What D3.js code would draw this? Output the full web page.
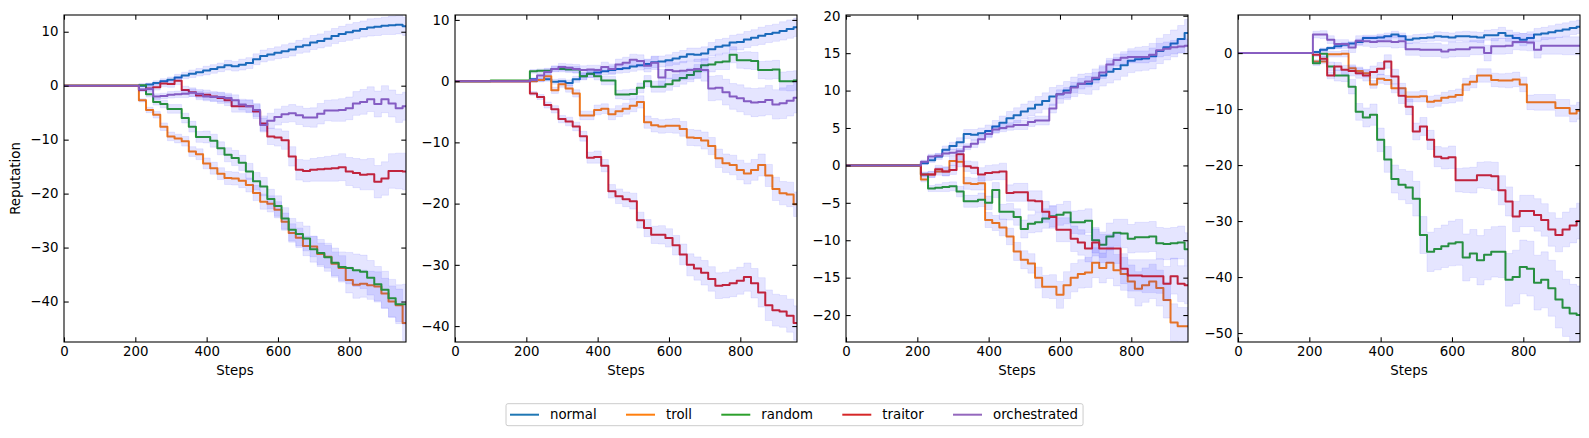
<!DOCTYPE html>
<html>
<head>
<meta charset="utf-8">
<script src="https://cdn.jsdelivr.net/npm/d3@7"></script>
<style>
  body { margin: 0; background: #fff; }
  text { font-family: "DejaVu Sans", sans-serif; }
</style>
</head>
<body>
<script>
const steps = [0,200,220,240,260,280,300,320,340,360,
  380,400,420,440,460,480,500,520,540,560,
  580,600,620,640,660,680,700,720,740,760,
  780,800,820,840,860,880,900,920,940,959];

const seriesNames = ["normal", "troll", "random", "traitor", "orchestrated"];
const xTicks = [0, 200, 400, 600, 800];

/* panel 1 */
const p1Normal = [0,0,0,0.2,0.5,0.8,1.1,1.5,1.9,2.2, 2.5,2.8,3.1,3.4,3.8,3.6,3.9,4.2,4.9,5.5,
  5.8,6.1,6.4,6.7,7.2,7.5,8.0,8.3,8.7,9.2, 9.6,9.9,10.2,10.5,10.8,10.9,11.1,11.2,11.3,11.0];
const p1Troll = [0,0,-2.7,-4.5,-5.4,-7.6,-9.4,-9.8,-10.3,-12.2, -12.7,-14.4,-15.3,-16.3,-17.1,-17.2,-17.6,-18.4,-19.9,-21.5,
  -21.9,-23.0,-25.2,-27.3,-28.2,-29.7,-29.8,-31.2,-31.7,-33.0, -33.8,-36.0,-36.9,-36.7,-37.0,-37.2,-38.5,-40.0,-40.7,-44.0];
const p1Random = [0,0,0.1,-1.6,-3.0,-3.4,-4.3,-4.3,-6.0,-7.6, -9.5,-9.5,-10.2,-11.6,-12.8,-13.4,-14.3,-15.9,-17.7,-18.7,
  -21.0,-22.3,-24.6,-26.7,-27.5,-28.3,-30.3,-31.0,-31.8,-32.8, -33.6,-33.8,-34.2,-34.5,-35.6,-36.8,-37.8,-39.4,-40.5,-40.5];
const p1Traitor = [0,0,-0.8,-0.5,-0.3,0.4,0.3,0.9,-0.8,-1.2, -1.8,-1.7,-2.0,-2.3,-2.7,-3.8,-3.8,-3.8,-4.8,-7.0,
  -9.4,-9.6,-10.1,-13.1,-15.6,-15.8,-15.6,-15.5,-15.4,-15.3, -15.1,-15.9,-16.2,-16.5,-16.4,-17.8,-17.2,-15.8,-15.8,-15.9];
const p1Orch = [0,0,-0.7,-0.6,-2.0,-1.9,-1.7,-1.6,-1.5,-1.3, -1.5,-2.0,-2.1,-2.1,-2.3,-2.7,-3.5,-3.8,-4.5,-7.3,
  -6.5,-5.8,-5.3,-5.1,-5.5,-5.9,-5.9,-5.2,-4.6,-4.6, -4.5,-4.2,-3.3,-3.0,-2.5,-3.4,-2.5,-3.3,-4.2,-3.8];
const p1NormalSd = [0,0,0.2,0.3,0.4,0.5,0.5,0.6,0.6,0.7, 0.7,0.8,0.8,0.8,0.9,0.9,1.0,1.0,1.0,1.1,
  1.1,1.1,1.2,1.2,1.2,1.3,1.3,1.3,1.4,1.4, 1.4,1.5,1.5,1.5,1.6,1.6,1.6,1.7,1.7,1.7];
const p1TrollSd = [0,0,0.3,0.5,0.6,0.7,0.8,0.8,0.9,0.9, 1.0,1.0,1.1,1.1,1.2,1.2,1.3,1.3,1.4,1.4,
  1.5,1.5,1.6,1.7,1.8,1.8,1.9,2.0,2.1,2.2, 2.3,2.4,2.5,2.5,2.6,2.7,2.8,2.9,3.0,3.2];
const p1RandomSd = [0,0,0.3,0.5,0.6,0.7,0.8,0.8,0.9,1.0, 1.0,1.1,1.2,1.2,1.3,1.4,1.4,1.5,1.6,1.7,
  1.8,1.9,2.0,2.1,2.2,2.3,2.4,2.5,2.6,2.7, 2.8,2.9,3.0,3.1,3.2,3.3,3.4,3.5,3.6,3.7];
const p1TraitorSd = [0,0,0.3,0.4,0.5,0.6,0.6,0.7,0.7,0.8, 0.8,0.9,0.9,1.0,1.0,1.1,1.1,1.2,1.3,1.4,
  1.5,1.6,1.7,1.8,1.9,2.0,2.1,2.2,2.3,2.4, 2.5,2.6,2.7,2.8,2.9,3.0,3.1,3.2,3.3,3.4];
const p1OrchSd = [0,0,0.3,0.4,0.5,0.5,0.6,0.6,0.7,0.7, 0.8,0.8,0.8,0.9,0.9,1.0,1.0,1.1,1.2,1.3,
  1.4,1.5,1.5,1.6,1.7,1.7,1.8,1.9,1.9,2.0, 2.1,2.1,2.2,2.3,2.3,2.4,2.5,2.5,2.6,2.6];

/* panel 2 */
const p2Normal = [0,0,0.3,0.2,0.3,-0.1,0,-0.3,0.3,0.8, 1.2,1.4,1.6,1.8,2.0,2.1,2.4,2.6,2.8,3.1,
  3.2,3.4,3.7,4.0,4.4,4.3,4.5,5.2,5.6,5.8, 6.3,6.4,6.8,7.1,7.4,7.7,7.9,8.2,8.5,8.8];
const p2Troll = [0,0,0,0.2,0.8,-1.5,-0.5,-1.2,-2.0,-5.6, -5.6,-4.7,-4.5,-5.4,-4.9,-4.5,-4.0,-3.4,-6.7,-7.2,
  -7.4,-7.3,-7.3,-7.8,-9.2,-9.3,-9.7,-10.6,-12.6,-13.4, -13.7,-14.5,-15.1,-14.5,-13.7,-15.4,-17.6,-18.3,-18.5,-20.1];
const p2Random = [0,0.1,1.6,1.7,1.7,2.0,2.0,1.9,1.9,0.8, 1.2,0.8,0.1,0.1,-2.2,-2.2,-2.1,-1.1,0.0,-0.9,
  -0.9,-0.5,0.1,0.5,1.0,1.6,2.6,2.7,3.1,3.2, 4.3,3.4,3.4,3.3,1.8,1.8,1.9,0.0,0.0,0.1];
const p2Traitor = [0,0,-2.0,-2.6,-3.9,-4.6,-6.2,-6.6,-7.4,-9.0, -12.5,-12.4,-13.8,-18.0,-18.8,-19.3,-19.6,-22.7,-24.0,-25.1,
  -25.1,-25.6,-26.8,-28.3,-30.0,-30.6,-31.3,-32.3,-33.4,-33.3, -33.0,-32.6,-32.0,-33.0,-34.5,-36.6,-37.4,-37.6,-38.3,-39.5];
const p2Orch = [0,0,0.2,0.9,1.5,2.0,2.3,2.2,2.0,1.8, 1.9,1.8,2.3,2.0,2.7,3.0,3.5,3.3,2.5,3.0,
  0.6,1.8,1.6,1.7,1.8,2.0,1.8,-1.2,-1.1,-1.8, -2.5,-2.8,-3.3,-3.5,-3.4,-3.1,-3.8,-3.6,-3.2,-2.7];
const p2NormalSd = [0,0,0.2,0.3,0.3,0.4,0.4,0.5,0.5,0.5, 0.6,0.6,0.6,0.7,0.7,0.7,0.8,0.8,0.8,0.9,
  0.9,0.9,1.0,1.0,1.0,1.1,1.1,1.1,1.2,1.2, 1.2,1.3,1.3,1.3,1.4,1.4,1.4,1.5,1.5,1.5];
const p2TrollSd = [0,0,0.2,0.3,0.4,0.5,0.5,0.6,0.6,0.7, 0.7,0.8,0.8,0.9,0.9,0.9,1.0,1.0,1.0,1.1,
  1.1,1.1,1.2,1.2,1.3,1.3,1.4,1.4,1.5,1.5, 1.6,1.6,1.7,1.7,1.8,1.8,1.9,1.9,2.0,2.0];
const p2RandomSd = [0,0,0.3,0.3,0.4,0.4,0.5,0.5,0.5,0.6, 0.6,0.6,0.7,0.7,0.7,0.8,0.8,0.8,0.9,0.9,
  0.9,1.0,1.0,1.0,1.1,1.1,1.1,1.2,1.2,1.3, 1.3,1.3,1.4,1.4,1.4,1.5,1.5,1.5,1.6,1.6];
const p2TraitorSd = [0,0,0.3,0.4,0.5,0.6,0.6,0.7,0.7,0.8, 0.9,1.0,1.0,1.1,1.2,1.2,1.3,1.3,1.4,1.4,
  1.5,1.5,1.6,1.7,1.8,1.9,2.0,2.0,2.1,2.1, 2.2,2.2,2.3,2.4,2.4,2.5,2.6,2.6,2.7,2.8];
const p2OrchSd = [0,0,0.3,0.4,0.5,0.5,0.6,0.6,0.7,0.7, 0.7,0.8,0.8,0.8,0.9,0.9,0.9,1.0,1.0,1.1,
  1.3,1.4,1.4,1.5,1.5,1.6,1.8,2.0,2.0,2.1, 2.1,2.2,2.2,2.3,2.3,2.4,2.4,2.5,2.5,2.5];

/* panel 3 */
const p3Normal = [0,0,0.3,0.7,1.2,2.1,2.6,3.1,4.2,4.1, 4.3,4.6,5.2,5.7,6.3,6.7,7.2,7.6,8.1,8.6,
  9.2,9.5,10.0,10.5,10.9,10.9,11.5,12.0,12.5,12.9, 13.4,14.0,14.2,14.3,14.6,15.3,15.8,16.3,16.9,17.7];
const p3Troll = [0,0,-1.9,-1.2,-0.8,-0.8,0.6,0.5,-2.4,-2.5, -2.4,-7.3,-7.7,-8.3,-9.5,-11.5,-12.6,-13.1,-15.0,-16.2,
  -16.2,-17.3,-16.0,-15.0,-14.5,-14.3,-13.0,-13.7,-13.0,-14.0, -14.5,-15.5,-16.5,-16.0,-15.5,-16.4,-18.0,-21.0,-21.5,-21.5];
const p3Random = [0,0,-1.2,-3.1,-3.0,-2.9,-2.8,-3.5,-4.8,-4.8, -4.6,-5.0,-3.3,-6.2,-6.2,-6.9,-8.5,-7.8,-7.6,-7.1,
  -6.8,-6.6,-6.3,-7.6,-7.6,-7.4,-10.0,-10.6,-9.5,-9.0, -9.1,-9.8,-9.6,-9.6,-9.5,-10.4,-10.5,-10.4,-10.3,-11.2];
const p3Traitor = [0,0,-1.2,-1.2,-0.5,-0.8,-0.6,1.5,-0.1,-0.3, -1.2,-1.0,-0.9,-0.8,-3.7,-3.6,-3.6,-4.7,-4.8,-6.2,
  -6.9,-8.6,-8.6,-9.8,-10.3,-11.1,-10.3,-11.1,-11.1,-11.1, -13.8,-14.7,-14.7,-14.8,-14.8,-14.8,-15.8,-14.8,-15.8,-16.0];
const p3Orch = [0,0,0.5,1.2,1.3,1.6,1.7,1.9,2.5,2.9, 3.5,4.2,4.8,5.0,5.2,5.4,5.4,5.8,6.0,6.0,
  7.6,9.5,9.7,10.4,10.9,11.2,11.7,12.4,13.5,14.1, 14.4,14.5,14.5,14.5,14.8,15.4,15.6,15.8,15.9,16.0];
const p3NormalSd = [0,0,0.2,0.3,0.4,0.5,0.5,0.6,0.6,0.7, 0.7,0.8,0.8,0.9,0.9,1.0,1.0,1.0,1.1,1.1,
  1.2,1.2,1.2,1.3,1.3,1.4,1.4,1.4,1.5,1.5, 1.5,1.6,1.6,1.6,1.7,1.7,1.7,1.8,1.8,1.8];
const p3TrollSd = [0,0,0.3,0.4,0.5,0.6,0.6,0.7,0.8,0.8, 0.9,1.0,1.0,1.1,1.1,1.2,1.2,1.3,1.4,1.5,
  1.6,1.8,1.8,1.9,1.9,2.0,2.0,2.0,2.1,2.1, 2.2,2.2,2.3,2.3,2.3,2.4,2.4,2.5,2.5,2.5];
const p3RandomSd = [0,0,0.3,0.4,0.5,0.6,0.6,0.7,0.8,0.8, 0.9,0.9,1.0,1.0,1.1,1.1,1.2,1.2,1.3,1.3,
  1.4,1.4,1.5,1.5,1.6,1.6,1.7,1.7,1.8,1.8, 1.9,1.9,2.0,2.0,2.0,2.1,2.1,2.1,2.2,2.2];
const p3TraitorSd = [0,0,0.3,0.4,0.5,0.6,0.6,0.7,0.7,0.8, 0.9,1.0,1.0,1.1,1.1,1.2,1.2,1.3,1.4,1.4,
  1.5,1.6,1.6,1.7,1.7,1.8,1.8,1.9,1.9,2.0, 2.0,2.1,2.1,2.2,2.2,2.3,2.3,2.4,2.4,2.5];
const p3OrchSd = [0,0,0.2,0.3,0.3,0.4,0.4,0.4,0.4,0.5, 0.5,0.5,0.5,0.5,0.5,0.6,0.6,0.6,0.6,0.6,
  0.6,0.6,0.7,0.7,0.7,0.7,0.7,0.8,0.8,0.8, 0.8,0.8,0.8,0.8,0.9,0.9,0.9,0.9,0.9,0.9];

/* panel 4 */
const p4Normal = [0,0,0.2,0.6,0.9,1.2,1.5,1.7,2.0,2.7, 2.7,2.8,3.0,3.3,3.0,2.4,2.6,2.7,2.8,3.0,
  2.9,2.8,3.0,3.0,2.9,2.8,3.2,3.2,3.6,3.1, 2.7,2.4,2.7,3.3,3.5,3.7,4.0,4.2,4.5,4.7];
const p4Troll = [0,0,-1.5,-1.5,-0.2,-0.2,-0.1,-2.7,-3.2,-3.6, -5.6,-4.6,-4.8,-6.3,-6.3,-7.8,-7.8,-7.7,-8.7,-8.5,
  -8.0,-7.8,-7.5,-5.6,-5.1,-4.0,-4.0,-4.8,-4.9,-4.9, -4.7,-5.6,-8.8,-8.8,-8.8,-8.8,-9.8,-9.8,-10.8,-10.3];
const p4Random = [0,0,-1.8,-0.1,-2.4,-4.0,-4.0,-6.0,-10.5,-11.5, -11.0,-15.5,-19.0,-22.5,-23.5,-24.0,-26.0,-32.5,-35.5,-35.0,
  -34.5,-34.0,-33.8,-36.5,-35.8,-37.0,-36.0,-35.5,-35.5,-40.5, -40.0,-38.2,-38.5,-41.0,-40.5,-42.0,-44.0,-45.5,-46.5,-46.8];
const p4Traitor = [0,0,-0.3,-1.0,-4.0,-2.4,-3.0,-3.2,-3.6,-4.0, -3.4,-2.8,-1.5,-4.2,-7.6,-9.6,-14.0,-13.1,-15.5,-18.5,
  -18.8,-18.6,-22.7,-22.7,-22.7,-21.8,-21.8,-22.0,-24.5,-26.5, -29.2,-28.2,-28.2,-28.9,-29.8,-31.5,-32.5,-31.5,-30.8,-30.0];
const p4Orch = [0,0,3.3,3.3,2.4,1.6,1.6,1.0,2.2,2.1, 2.0,2.1,2.1,2.0,2.1,0.7,0.7,0.6,0.6,0.6,
  0.3,0.6,0.7,0.7,1.0,1.0,0.0,1.2,1.2,1.3, 2.0,2.0,1.9,0.6,1.3,1.3,1.3,1.3,1.3,1.3];
const p4NormalSd = [0,0,0.2,0.3,0.3,0.4,0.4,0.4,0.5,0.5, 0.5,0.6,0.6,0.6,0.6,0.7,0.7,0.7,0.7,0.8,
  0.8,0.8,0.8,0.9,0.9,0.9,0.9,1.0,1.0,1.0, 1.0,1.1,1.1,1.1,1.1,1.2,1.2,1.2,1.2,1.2];
const p4TrollSd = [0,0,0.3,0.4,0.5,0.5,0.6,0.6,0.7,0.7, 0.7,0.8,0.8,0.8,0.9,0.9,0.9,1.0,1.0,1.0,
  1.0,1.1,1.1,1.1,1.1,1.2,1.2,1.2,1.2,1.3, 1.3,1.3,1.3,1.4,1.4,1.4,1.5,1.5,1.5,1.5];
const p4RandomSd = [0,0,0.4,0.6,0.8,1.0,1.1,1.3,1.5,1.7, 1.9,2.1,2.3,2.5,2.7,2.9,3.1,3.3,3.5,3.7,
  3.8,4.0,4.1,4.2,4.3,4.4,4.5,4.5,4.6,4.7, 4.8,4.8,4.9,4.9,5.0,5.0,5.1,5.1,5.2,5.2];
const p4TraitorSd = [0,0,0.3,0.5,0.6,0.7,0.8,0.9,0.9,1.0, 1.1,1.1,1.2,1.3,1.4,1.4,1.5,1.6,1.7,1.8,
  1.9,2.0,2.1,2.2,2.3,2.3,2.4,2.5,2.6,2.6, 2.7,2.8,2.8,2.9,2.9,3.0,3.0,3.1,3.1,3.2];
const p4OrchSd = [0,0,0.6,0.7,0.7,0.8,0.8,0.9,0.9,0.9, 1.0,1.0,1.0,1.1,1.1,1.1,1.1,1.2,1.2,1.2,
  1.2,1.3,1.3,1.3,1.3,1.3,1.4,1.4,1.4,1.4, 1.4,1.5,1.5,1.5,1.5,1.5,1.5,1.6,1.6,1.6];

const p1YTicks = [10, 0, -10, -20, -30, -40];
const p2YTicks = [10, 0, -10, -20, -30, -40];
const p3YTicks = [20, 15, 10, 5, 0, -5, -10, -15, -20];
const p4YTicks = [0, -10, -20, -30, -40, -50];

/****************************************************************************************************************
	layout + styles
****************************************************************************************************************/
let W = 1589, H = 438;
let colors = ["#1f77b4", "#ff7f0e", "#2ca02c", "#d62728", "#9467bd"];
let plotTop = 15, plotH = 327, plotW = 342, tickLen = 4.7, fs = 13.33;

let panels = [
  { left: 64,   yDom: [-47.5, 13.1], yTicks: p1YTicks,
    mean: [p1Normal, p1Troll, p1Random, p1Traitor, p1Orch],
    sd:   [p1NormalSd, p1TrollSd, p1RandomSd, p1TraitorSd, p1OrchSd] },
  { left: 455,  yDom: [-42.6, 10.8], yTicks: p2YTicks,
    mean: [p2Normal, p2Troll, p2Random, p2Traitor, p2Orch],
    sd:   [p2NormalSd, p2TrollSd, p2RandomSd, p2TraitorSd, p2OrchSd] },
  { left: 846,  yDom: [-23.6, 20.1], yTicks: p3YTicks,
    mean: [p3Normal, p3Troll, p3Random, p3Traitor, p3Orch],
    sd:   [p3NormalSd, p3TrollSd, p3RandomSd, p3TraitorSd, p3OrchSd] },
  { left: 1238, yDom: [-51.6, 6.8], yTicks: p4YTicks,
    mean: [p4Normal, p4Troll, p4Random, p4Traitor, p4Orch],
    sd:   [p4NormalSd, p4TrollSd, p4RandomSd, p4TraitorSd, p4OrchSd] }
];

let svg = d3.select("body").append("svg").attr("width", W).attr("height", H);
svg.append("rect").attr("width", W).attr("height", H).attr("fill", "#fff");

let fmt = d3.format("");  // d3 v7 uses the unicode minus

panels.forEach(function(p, pi) {
  let x = d3.scaleLinear().domain([0, 959]).range([0, plotW]);
  let y = d3.scaleLinear().domain(p.yDom).range([plotH, 0]);
  let g = svg.append("g").attr("transform", "translate(" + p.left + "," + plotTop + ")");

  g.append("clipPath").attr("id", "clip" + pi)
    .append("rect").attr("width", plotW).attr("height", plotH);
  let plot = g.append("g").attr("clip-path", "url(#clip" + pi + ")");

  // each series: line, then its shaded band
  p.mean.forEach(function(vals, si) {
    let idx = d3.range(steps.length);
    let line = d3.line().x(i => x(steps[i])).y(i => y(vals[i])).curve(d3.curveStep);
    let band = d3.area().x(i => x(steps[i]))
      .y0(i => y(vals[i] - p.sd[si][i])).y1(i => y(vals[i] + p.sd[si][i]))
      .curve(d3.curveStep);
    plot.append("path").attr("d", line(idx))
      .attr("fill", "none").attr("stroke", colors[si]).attr("stroke-width", 2)
      .attr("stroke-linejoin", "round");
    plot.append("path").attr("d", band(idx))
      .attr("fill", "blue").attr("fill-opacity", 0.1)
      .attr("stroke", "blue").attr("stroke-opacity", 0.08).attr("stroke-width", 1);
  });

  // axes, ticks pointing inward on all four sides
  let axB = g.append("g").attr("transform", "translate(0," + plotH + ")")
    .call(d3.axisBottom(x).tickValues(xTicks).tickSizeInner(-tickLen).tickSizeOuter(0).tickPadding(4.9).tickFormat(fmt));
  let axT = g.append("g")
    .call(d3.axisTop(x).tickValues(xTicks).tickSizeInner(-tickLen).tickSizeOuter(0).tickFormat(""));
  let axL = g.append("g")
    .call(d3.axisLeft(y).tickValues(p.yTicks).tickSizeInner(-tickLen).tickSizeOuter(0).tickPadding(5.6).tickFormat(fmt));
  let axR = g.append("g").attr("transform", "translate(" + plotW + ",0)")
    .call(d3.axisRight(y).tickValues(p.yTicks).tickSizeInner(-tickLen).tickSizeOuter(0).tickFormat(""));
  [axB, axT, axL, axR].forEach(function(a) {
    a.select(".domain").remove();
    a.selectAll("line").attr("stroke", "#000").attr("stroke-width", 1.07);
    a.selectAll("text").attr("fill", "#000").style("font-size", fs + "px")
      .style("font-family", "'DejaVu Sans', sans-serif");
  });

  g.append("rect").attr("width", plotW).attr("height", plotH)
    .attr("fill", "none").attr("stroke", "#000").attr("stroke-width", 1.07);

  g.append("text").attr("x", plotW / 2).attr("y", 375.3 - plotTop)
    .attr("text-anchor", "middle").style("font-size", fs + "px").text("Steps");

  if (pi == 0) {
    g.append("text").attr("transform", "translate(" + (19.5 - p.left) + "," + plotH / 2 + ") rotate(-90)")
      .attr("text-anchor", "middle").style("font-size", fs + "px").text("Reputation");
  }
});

/****************************************************************************************************************
	legend
****************************************************************************************************************/
let leg = svg.append("g");
let legBox = leg.append("rect");
let lx = 510, ly = 414.7, colGap = 29.3;
seriesNames.forEach(function(name, i) {
  leg.append("line").attr("x1", lx).attr("x2", lx + 29).attr("y1", ly).attr("y2", ly)
    .attr("stroke", colors[i]).attr("stroke-width", 2);
  let t = leg.append("text").attr("x", lx + 40).attr("y", 419.3)
    .style("font-size", fs + "px").attr("fill", "#000").text(name);
  lx = lx + 40 + t.node().getComputedTextLength() + colGap;
});
legBox.attr("x", 506).attr("y", 403.7).attr("width", lx - colGap + 5 - 506).attr("height", 22)
  .attr("rx", 2).attr("fill", "#fff").attr("fill-opacity", 0.8)
  .attr("stroke", "#cccccc").attr("stroke-width", 1);
</script>
</body>
</html>
